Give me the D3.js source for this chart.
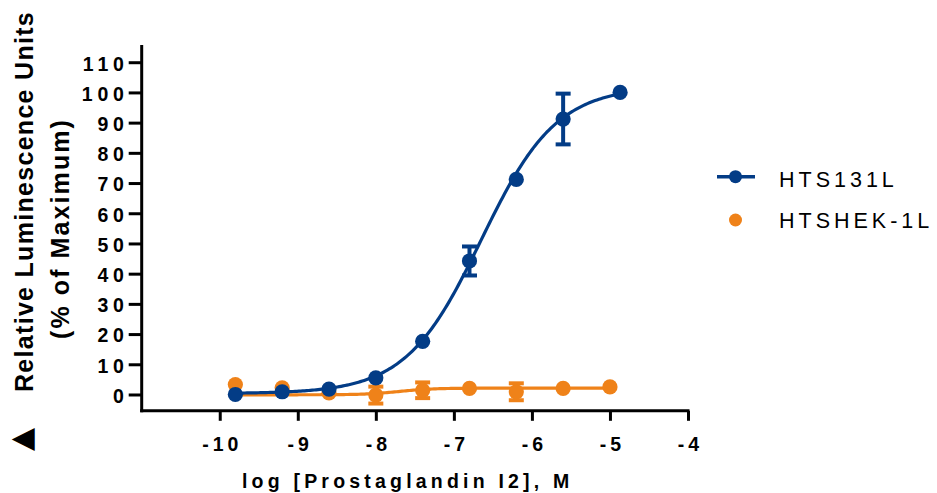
<!DOCTYPE html>
<html>
<head>
<meta charset="utf-8">
<script src="https://cdn.jsdelivr.net/npm/d3@7"></script>
<style>
  html, body { margin: 0; padding: 0; background: #fff; }
  svg { display: block; }
  text { font-family: "Liberation Sans", Arial, sans-serif; }
</style>
</head>
<body>
<svg id="chart" width="937" height="493"></svg>
<script>
// ---- data ----
const seriesNames = ["HTS131L", "HTSHEK-1L"];
const blueLogConc = [-9.8, -9.2, -8.6, -8.0, -7.4, -6.8, -6.2, -5.6, -4.87];
const blueMean    = [0, 0.9, 1.8, 5.5, 17.6, 44.2, 71.2, 91.2, 100];
const blueErr     = [0, 0, 0, 0, 0, 4.8, 0, 8.4, 0];
const orangeLogConc = [-9.8, -9.2, -8.6, -8.0, -7.4, -6.8, -6.2, -5.6, -5.0];
const orangeMean    = [3.3, 2.2, 0.5, -0.2, 1.4, 2.0, 0.9, 2.0, 2.5];
const orangeErr     = [0, 0, 0, 2.8, 2.6, 0, 2.8, 0, 0];
// fitted 4-parameter dose-response curves: [bottom, top, logEC50, hill]
const blueFit   = [0.3, 102, -6.65, 0.9];
const orangeFit = [-0.1, 2.1, -7.7, 2.0];
const xTicks = [-10, -9, -8, -7, -6, -5, -4];
const yTicks = [0, 10, 20, 30, 40, 50, 60, 70, 80, 90, 100, 110];
const xTitle = "log [Prostaglandin I2], M";
const yTitleSymbol = "\u25B2";
const yTitle1 = "Relative Luminescence Units";
const yTitle2 = "(% of Maximum)";

const BLUE = "#033c86";
const ORANGE = "#ef8219";

const svg = d3.select("#chart");
const x = d3.scaleLinear().domain([-11, -4]).range([141.7, 688]);
const y = d3.scaleLinear().domain([-5.4, 115.7]).range([410.8, 45]);

// axes
const xAxis = d3.axisBottom(x).tickValues(xTicks).tickSize(10).tickPadding(16.3).tickSizeOuter(0);
const gx = svg.append("g").attr("transform", "translate(0,410.8)").call(xAxis);
gx.select(".domain").remove();
gx.selectAll(".tick line").attr("stroke", "#000").attr("stroke-width", 3);
gx.selectAll(".tick text").attr("fill", "#000").attr("font-size", "19.5px").attr("font-weight", "bold")
  .style("letter-spacing", "4px").attr("dx", "2px")
  .text(d => d < 0 ? "-" + Math.abs(d) : d);

const yAxis = d3.axisLeft(y).tickValues(yTicks).tickSize(13).tickPadding(0).tickSizeOuter(0);
const gy = svg.append("g").attr("transform", "translate(141.7,0)").call(yAxis);
gy.select(".domain").remove();
gy.selectAll(".tick line").attr("stroke", "#000").attr("stroke-width", 3);
gy.selectAll(".tick text").attr("fill", "#000").attr("font-size", "19.5px").attr("font-weight", "bold")
  .style("letter-spacing", "4.8px").attr("dy", "0.40em");

// axis lines
svg.append("line").attr("x1", 141.7).attr("x2", 141.7).attr("y1", 45).attr("y2", 412.3)
  .attr("stroke", "#000").attr("stroke-width", 3);
svg.append("line").attr("x1", 140.2).attr("x2", 689.5).attr("y1", 410.8).attr("y2", 410.8)
  .attr("stroke", "#000").attr("stroke-width", 3);

// titles
svg.append("text").attr("x", 242).attr("y", 488.3).attr("font-size", "19.5px").attr("font-weight", "bold")
  .style("letter-spacing", "4.2px").attr("fill", "#000").text(xTitle);
svg.append("text").attr("transform", "translate(31,451) rotate(-90)").attr("text-anchor", "start")
  .style("font-family", "'DejaVu Sans', sans-serif").style("font-size", "30px").attr("fill", "#000").text(yTitleSymbol);
svg.append("text").attr("transform", "translate(33,392) rotate(-90)").attr("text-anchor", "start")
  .attr("font-size", "25px").attr("font-weight", "bold").style("letter-spacing", "1.3px")
  .attr("fill", "#000").text(yTitle1);
svg.append("text").attr("transform", "translate(69,228.5) rotate(-90)").attr("text-anchor", "middle")
  .attr("font-size", "25px").attr("font-weight", "bold").style("letter-spacing", "2.1px")
  .attr("fill", "#000").text(yTitle2);

// fitted curves
function fitPoints(p, x0, x1) {
  const [bottom, top, ec, hill] = p;
  return d3.range(0, 201).map(i => {
    const lx = x0 + (x1 - x0) * i / 200;
    return [lx, bottom + (top - bottom) / (1 + Math.pow(10, (ec - lx) * hill))];
  });
}
const line = d3.line().x(d => x(d[0])).y(d => y(d[1]));

function drawSeries(lc, mean, err, fit, color) {
  const g = svg.append("g");
  g.append("path").attr("d", line(fitPoints(fit, d3.min(lc), d3.max(lc))))
    .attr("fill", "none").attr("stroke", color).attr("stroke-width", 3.2);
  const pts = lc.map((v, i) => ({ x: v, m: mean[i], e: err[i] }));
  const eb = g.selectAll(".eb").data(pts.filter(d => d.e > 0)).enter().append("g");
  eb.append("line").attr("x1", d => x(d.x)).attr("x2", d => x(d.x))
    .attr("y1", d => y(d.m - d.e)).attr("y2", d => y(d.m + d.e)).attr("stroke", color).attr("stroke-width", 4);
  [1, -1].forEach(s => {
    eb.append("line").attr("x1", d => x(d.x) - 7.5).attr("x2", d => x(d.x) + 7.5)
      .attr("y1", d => y(d.m + s * d.e)).attr("y2", d => y(d.m + s * d.e))
      .attr("stroke", color).attr("stroke-width", 4);
  });
  g.selectAll("circle").data(pts).enter().append("circle")
    .attr("cx", d => x(d.x)).attr("cy", d => y(d.m)).attr("r", 7.6).attr("fill", color);
}
drawSeries(orangeLogConc, orangeMean, orangeErr, orangeFit, ORANGE);
drawSeries(blueLogConc, blueMean, blueErr, blueFit, BLUE);

// legend
const lg = svg.append("g");
lg.append("line").attr("x1", 717).attr("x2", 755).attr("y1", 176.7).attr("y2", 176.7)
  .attr("stroke", BLUE).attr("stroke-width", 3.5);
lg.append("circle").attr("cx", 735.5).attr("cy", 176.7).attr("r", 6.5).attr("fill", BLUE);
lg.append("text").attr("x", 779).attr("y", 187.3).attr("font-size", "21.5px").style("letter-spacing", "4px")
  .attr("fill", "#000").text(seriesNames[0]);
lg.append("circle").attr("cx", 735.5).attr("cy", 220).attr("r", 6.5).attr("fill", ORANGE);
lg.append("text").attr("x", 779).attr("y", 228.3).attr("font-size", "21.5px").style("letter-spacing", "4px")
  .attr("fill", "#000").text(seriesNames[1]);
</script>
</body>
</html>
